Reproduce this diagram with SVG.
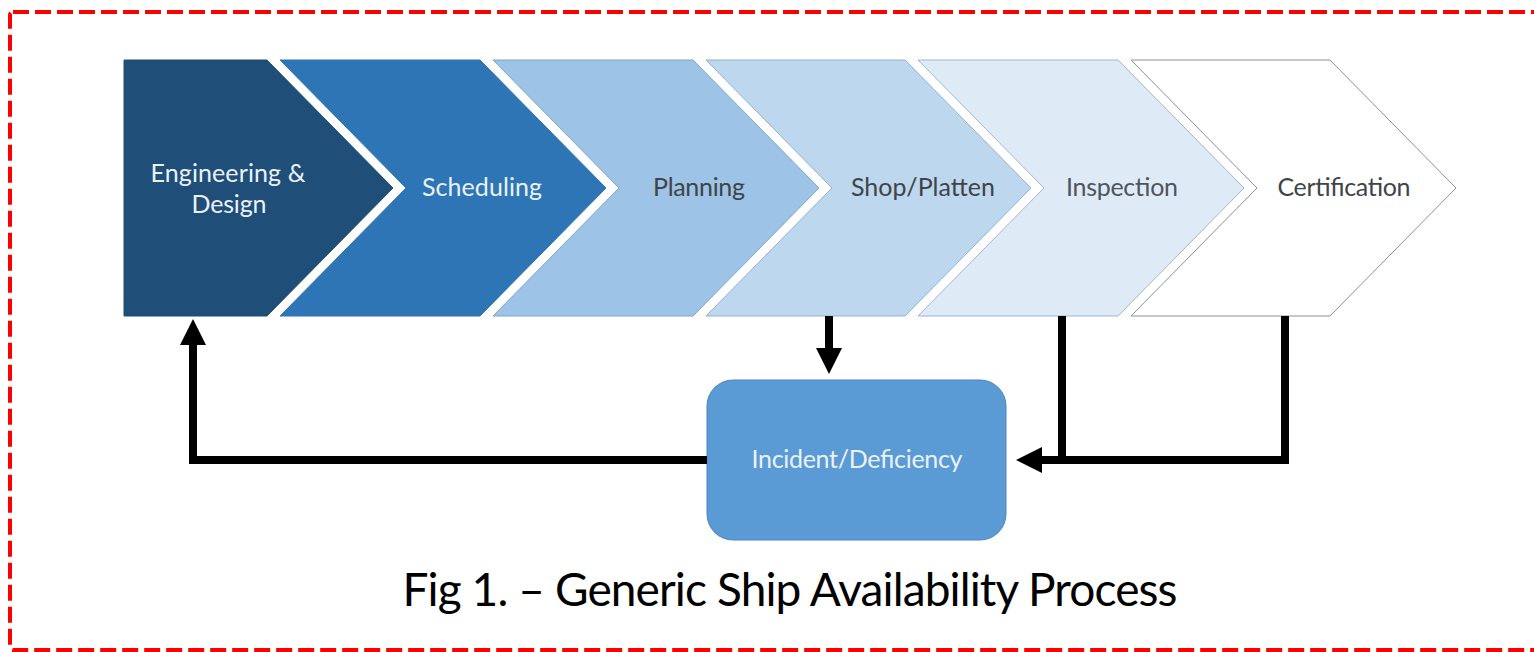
<svg xmlns="http://www.w3.org/2000/svg" width="1534" height="652" viewBox="0 0 1534 652">
  <style>
    .chev { stroke-width: 1; stroke-linejoin: miter; }
    .lbl { font-family: Lato, "Liberation Sans", sans-serif; font-size: 25px; text-anchor: middle; }
    .light { fill: #eaf1f8; }
    .dark { fill: #404448; }
    .wire { fill: none; stroke: #000; stroke-width: 8; stroke-linejoin: miter; }
    .caption { font-family: Lato, "Liberation Sans", sans-serif; font-size: 46px; fill: #000; text-anchor: middle; }
  </style>
  <defs>
    <marker id="head" markerUnits="userSpaceOnUse" markerWidth="26" markerHeight="26" refX="1" refY="13" orient="auto">
      <path d="M0,0 L26,13 L0,26 Z" fill="#000"/>
    </marker>
  </defs>

  <rect width="1534" height="652" fill="#fff"/>

  <!-- dashed frame -->
  <rect x="10" y="12" width="1530" height="638" rx="3" fill="none" stroke="#ff0000" stroke-width="4" stroke-dasharray="16 6"/>

  <!-- process chevrons -->
  <g id="engineering-design">
    <polygon class="chev" points="124,60 267,60 393,188 267,316 124,316" fill="#1f4e79" stroke="#1f4e79"/>
    <text class="lbl light" x="228" y="182" textLength="155">Engineering &amp;</text>
    <text class="lbl light" x="229" y="213" textLength="75">Design</text>
  </g>
  <g id="scheduling">
    <polygon class="chev" points="280,60 480,60 606,188 480,316 280,316 406,188" fill="#2e75b6" stroke="#2e75b6"/>
    <text class="lbl light" x="482" y="196" textLength="120">Scheduling</text>
  </g>
  <g id="planning">
    <polygon class="chev" points="493,60 693,60 819,188 693,316 493,316 619,188" fill="#9dc3e6" stroke="#7da6cc"/>
    <text class="lbl dark" x="699" y="196" textLength="92">Planning</text>
  </g>
  <g id="shop-platten">
    <polygon class="chev" points="706,60 905,60 1031,188 905,316 706,316 832,188" fill="#bdd7ee" stroke="#8fb2d2"/>
    <text class="lbl dark" x="923" y="196" textLength="144">Shop/Platten</text>
  </g>
  <g id="inspection">
    <polygon class="chev" points="918,60 1118,60 1244,188 1118,316 918,316 1044,188" fill="#deebf7" stroke="#9eb6cc"/>
    <text class="lbl dark" x="1122" y="196" textLength="112" style="fill:#4f555c">Inspection</text>
  </g>
  <g id="certification">
    <polygon class="chev" points="1131,60 1330,60 1456,188 1330,316 1131,316 1257,188" fill="#ffffff" stroke="#8c9096"/>
    <text class="lbl dark" x="1344" y="196" textLength="133">Certification</text>
  </g>

  <!-- incident box -->
  <g id="incident-deficiency">
    <rect x="707" y="380" width="299" height="160" rx="26" fill="#5b9bd5" stroke="#4a86bf" stroke-width="1"/>
    <text class="lbl light" x="857" y="468" textLength="211">Incident/Deficiency</text>
  </g>

  <!-- connectors -->
  <g id="connectors">
    <path class="wire" d="M707,460 H193 V344" marker-end="url(#head)"/>
    <path class="wire" d="M829,316 V349" marker-end="url(#head)"/>
    <path class="wire" d="M1062,316 V460"/>
    <path class="wire" d="M1285,316 V460 H1041" marker-end="url(#head)"/>
  </g>

  <text class="caption" x="790" y="606" textLength="775">Fig 1. – Generic Ship Availability Process</text>
</svg>
